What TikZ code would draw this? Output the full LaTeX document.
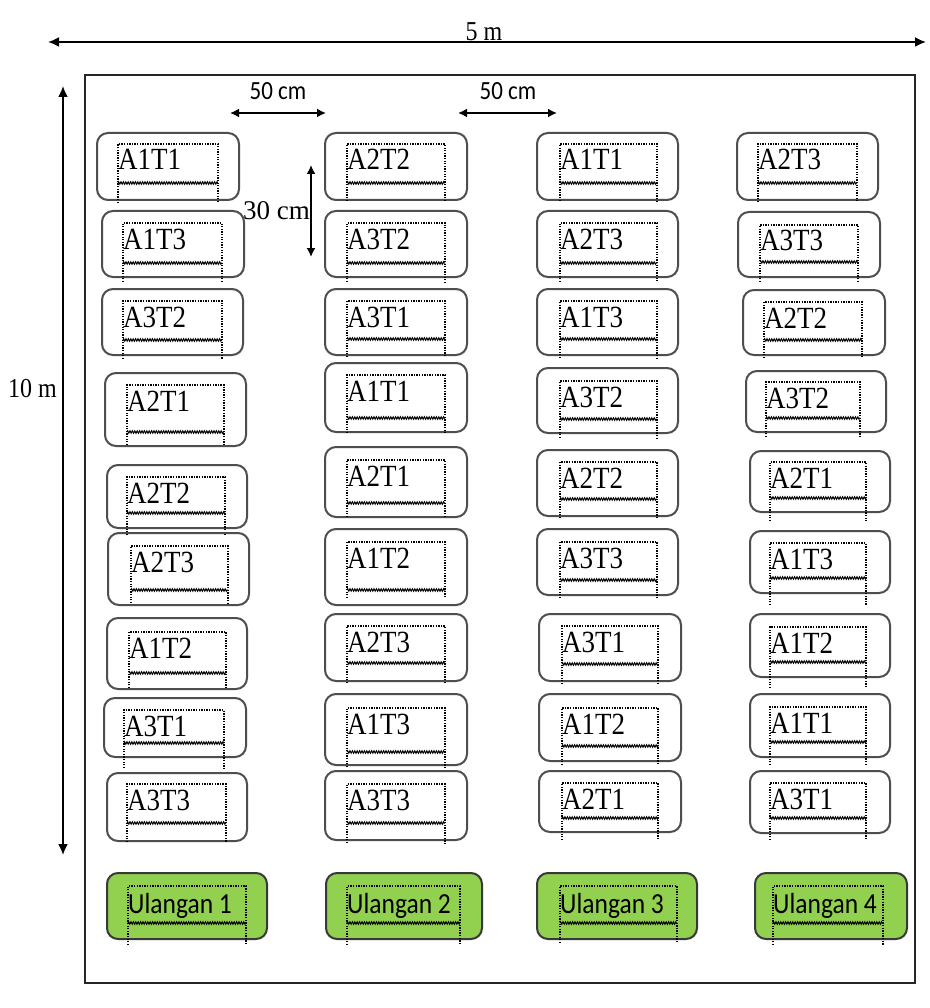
\documentclass[tikz,border=0pt]{standalone}
\usepackage{graphicx}
\usepackage{fontspec}
\setmainfont{Liberation Serif}
\newfontfamily\calib{Carlito}
\usetikzlibrary{arrows.meta,decorations.pathmorphing}

\definecolor{boxgray}{HTML}{4E4E4E}
\definecolor{repgreen}{HTML}{92D050}
\definecolor{repedge}{HTML}{383838}
\newcommand{\tall}[1]{\scalebox{1}[1.14]{#1}}

\begin{document}
\begin{tikzpicture}[x=1pt,y=-1pt,
  plotbox/.style={draw=boxgray, line width=2pt, rounded corners=11pt, inner sep=0pt},
  repbox/.style={plotbox, draw=repedge, fill=repgreen},
  lbl/.style={inner sep=0pt, anchor=base west, font=\fontsize{27}{30}\selectfont},
  replbl/.style={lbl, font=\calib\fontsize{25.5}{30}\selectfont},
  frame/.style={line width=1.4pt, dash pattern=on 1.3pt off 1.3pt},
  wave/.style={line width=1pt, decorate, decoration={zigzag, segment length=2.4pt, amplitude=1.2pt}},
  dim/.style={line width=1.8pt, {Latex[length=11pt,width=10pt]}-{Latex[length=11pt,width=10pt]}},
  dimsmall/.style={line width=2pt, {Latex[length=9pt,width=9pt]}-{Latex[length=9pt,width=9pt]}},
]
\fill[white] (0,0) rectangle (929,1008);
\useasboundingbox (0,0) rectangle (929,1008);

% field border
\node[draw=black!85, line width=2pt, minimum width=830pt, minimum height=908pt, inner sep=0pt] (field) at (500,529) {};

% plots: name / box corners / text frame (left, right, top, wave, leg end) / label
\foreach \n/\xa/\ya/\xb/\yb/\da/\db/\dt/\dw/\dl/\t in {
  aa/97/133/239/200/118/218/144/183/203/A1T1,
  ab/102/211/244/277/123/222/223/263/282/A1T3,
  ac/102/289/243/355/123/222/301/340/359/A3T2,
  ad/105/373/246/446/127/224/385/432/445/A2T1,
  ae/107/465/247/528/127/225/477/513/535/A2T2,
  af/108/533/249/605/131/228/546/590/603/A2T3,
  ag/107/618/247/689/129/226/632/673/688/A1T2,
  ah/104/698/246/757/124/224/710/743/768/A3T1,
  ai/107/773/247/841/127/226/784/823/842/A3T3,
  ba/325/133/467/200/347/445/144/183/201/A2T2,
  bb/325/211/467/277/347/445/223/263/282/A3T2,
  bc/325/289/467/355/347/445/301/339/357/A3T1,
  bd/325/363/467/432/347/445/375/418/433/A1T1,
  be/325/447/467/517/347/445/460/503/517/A2T1,
  bf/325/529/467/605/347/445/542/590/598/A1T2,
  bg/325/614/467/681/347/445/626/663/683/A2T3,
  bh/325/694/467/765/347/445/708/752/767/A1T3,
  bi/325/771/467/840/347/445/784/823/843/A3T3,
  ca/537/133/678/200/560/657/144/183/201/A1T1,
  cb/537/211/678/277/560/657/223/263/282/A2T3,
  cc/537/289/678/355/560/657/301/339/358/A1T3,
  cd/537/368/678/433/560/657/381/419/438/A3T2,
  ce/537/450/678/516/560/657/462/499/518/A2T2,
  cf/537/529/678/595/560/657/542/580/598/A3T3,
  cg/539/614/681/681/562/658/626/664/684/A3T1,
  ch/539/694/681/761/562/658/708/746/765/A1T2,
  ci/539/771/681/832/562/658/783/818/840/A2T1,
  da/737/133/878/200/758/857/144/183/202/A2T3,
  db/738/212/880/277/760/858/225/262/282/A3T3,
  dc/743/290/885/355/764/862/302/340/358/A2T2,
  dd/746/371/886/432/766/860/382/418/437/A3T2,
  de/750/451/890/512/770/866/462/498/521/A2T1,
  df/750/531/890/593/770/866/543/578/605/A1T3,
  dg/750/614/890/677/770/866/627/662/688/A1T2,
  dh/750/694/890/757/770/866/707/742/765/A1T1,
  di/750/771/890/833/770/866/783/818/840/A3T1}{
  \node[plotbox, minimum width={(\xb-\xa)*1pt}, minimum height={(\yb-\ya)*1pt}] (p\n) at ({(\xa+\xb)/2},{(\ya+\yb)/2}) {};
  \node[lbl] (t\n) at (\da,\dt+26) {\tall{\t}};
  \draw[frame] (\da,\dl) -- (\da,\dt) -- (\db,\dt) -- (\db,\dl);
  \draw[wave] (\da,\dw) -- (\db,\dw);
}

% replicate labels
\foreach \n/\xa/\ya/\xb/\yb/\da/\db/\dt/\dw/\dl/\t in {
  ua/107/873/267/939/128/246/886/923/945/Ulangan 1,
  ub/326/873/482/939/347/460/886/923/945/Ulangan 2,
  uc/537/873/697/939/560/677/886/923/943/Ulangan 3,
  ud/755/873/907/939/773/883/886/923/945/Ulangan 4}{
  \node[repbox, minimum width={(\xb-\xa)*1pt}, minimum height={(\yb-\ya)*1pt}] (r\n) at ({(\xa+\xb)/2},{(\ya+\yb)/2}) {};
  \node[replbl] (s\n) at (\da,\dt+27) {\tall{\t}};
  \draw[frame] (\da,\dl) -- (\da,\dt) -- (\db,\dt) -- (\db,\dl);
  \draw[wave] (\da,\dw) -- (\db,\dw);
}

% overall dimensions
\coordinate (wl) at (48,42);
\coordinate (wr) at (926,42);
\draw[dim] (wl) -- (wr);
\node[anchor=base, inner sep=0pt, font=\fontsize{24}{28}\selectfont] (wlab) at (484,41) {\tall{5 m}};

\coordinate (ht) at (63,86);
\coordinate (hb) at (63,855);
\draw[dim] (ht) -- (hb);
\node[anchor=base west, inner sep=0pt, font=\fontsize{24}{28}\selectfont] (hlab) at (8,397) {\tall{10 m}};

% spacing between columns
\coordinate (g1l) at (230,113);
\coordinate (g1r) at (326,113);
\draw[dimsmall] (g1l) -- (g1r);
\node[anchor=base, inner sep=0pt, font=\calib\fontsize{23}{26}\selectfont] (g1lab) at (278,100) {\tall{50 cm}};

\coordinate (g2l) at (458,113);
\coordinate (g2r) at (557,113);
\draw[dimsmall] (g2l) -- (g2r);
\node[anchor=base, inner sep=0pt, font=\calib\fontsize{23}{26}\selectfont] (g2lab) at (508,100) {\tall{50 cm}};

% spacing between rows
\coordinate (vt) at (311,165);
\coordinate (vb) at (311,257);
\draw[dimsmall] (vt) -- (vb);
\node[anchor=base west, inner sep=0pt, font=\fontsize{27}{30}\selectfont] (vlab) at (243,220) {30 cm};
\end{tikzpicture}
\end{document}
